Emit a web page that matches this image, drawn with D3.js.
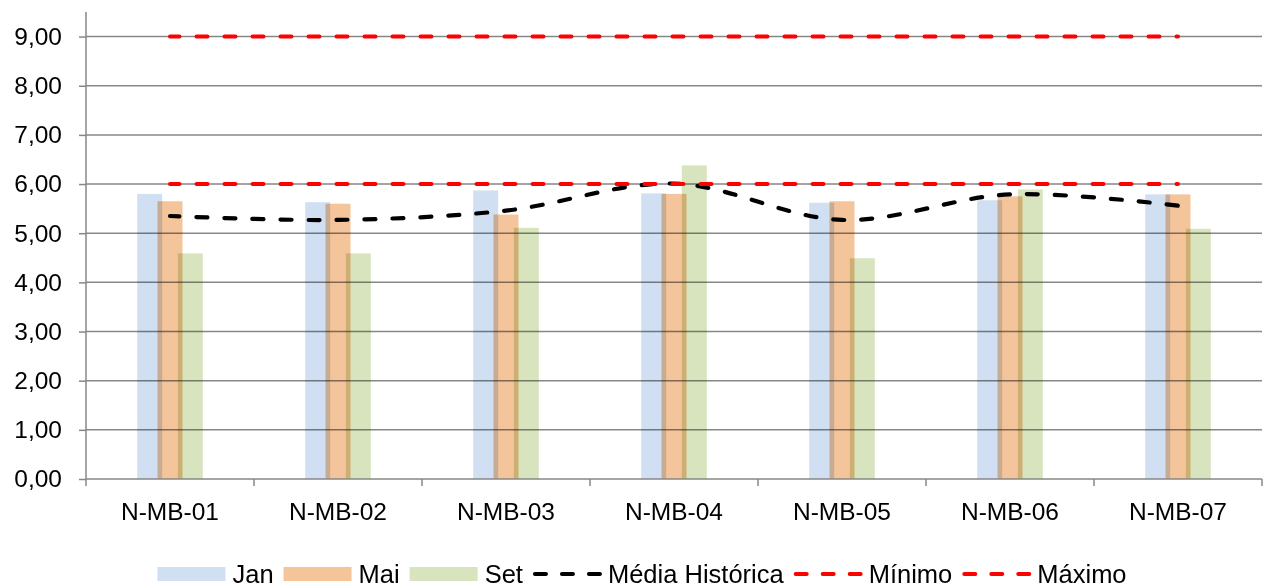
<!DOCTYPE html>
<html>
<head>
<meta charset="utf-8">
<script src="https://cdn.jsdelivr.net/npm/d3@7"></script>
<style>
  html, body { margin: 0; padding: 0; background: #fff; }
  svg { display: block; font-family: "Liberation Sans", Arial, sans-serif; }
</style>
</head>
<body>
<svg id="chart" width="1266" height="588"></svg>
<script>
// Monitoring points and monthly readings
const categories = ["N-MB-01", "N-MB-02", "N-MB-03", "N-MB-04", "N-MB-05", "N-MB-06", "N-MB-07"];
const jan = [5.80, 5.63, 5.87, 5.81, 5.62, 5.67, 5.79];
const mai = [5.65, 5.60, 5.38, 5.80, 5.65, 5.75, 5.79];
const set = [4.59, 4.59, 5.11, 6.38, 4.49, 5.89, 5.09];
const mediaHistorica = [5.35, 5.27, 5.46, 6.01, 5.27, 5.79, 5.56];
const minimo = [6, 6, 6, 6, 6, 6, 6];
const maximo = [9, 9, 9, 9, 9, 9, 9];
const yTicks = [0, 1, 2, 3, 4, 5, 6, 7, 8, 9];

const barSeries = [
  { name: "Jan", values: jan, color: "#d0dff2" },
  { name: "Mai", values: mai, color: "#f4c49a" },
  { name: "Set", values: set, color: "#d8e4be" }
];
const lineSeries = [
  { name: "Média Histórica", values: mediaHistorica, color: "#000000", smooth: true },
  { name: "Mínimo", values: minimo, color: "#ff0000", smooth: false },
  { name: "Máximo", values: maximo, color: "#ff0000", smooth: false }
];

const svg = d3.select("#chart");
const plot = { left: 86, right: 1262, top: 12, bottom: 479 };
const axisFont = 24.5;
const legendFont = 25.5;

const x = d3.scaleBand().domain(categories).range([plot.left, plot.right]).paddingInner(0).paddingOuter(0);
const y = d3.scaleLinear().domain([0, 9.5]).range([plot.bottom, plot.top]);

const axisColor = "#878787";

// Horizontal gridlines
svg.append("g")
  .selectAll("line")
  .data(yTicks.slice(1))
  .join("line")
  .attr("x1", plot.left).attr("x2", plot.right)
  .attr("y1", d => y(d)).attr("y2", d => y(d))
  .attr("stroke", axisColor).attr("stroke-width", 1.5);

// Clustered bars, slightly overlapping
const barW = 25;
const step = 20.3;
const bars = svg.append("g");
barSeries.forEach((s, i) => {
  bars.append("g")
    .selectAll("rect")
    .data(s.values)
    .join("rect")
    .attr("x", (d, j) => x(categories[j]) + x.bandwidth() / 2 + (i - 1) * step - barW / 2)
    .attr("width", barW)
    .attr("y", d => y(d))
    .attr("height", d => y(0) - y(d))
    .attr("fill", s.color)
    .style("mix-blend-mode", "multiply");
});

// Y axis
const yAxis = d3.axisLeft(y).tickValues(yTicks).tickSize(7).tickPadding(17)
  .tickFormat(d => d3.format(".2f")(d).replace(".", ","));
const gy = svg.append("g").attr("transform", `translate(${plot.left},0)`).call(yAxis);
gy.select(".domain").attr("stroke", axisColor).attr("stroke-width", 1.5)
  .attr("d", `M0,${plot.top}V${plot.bottom}`);
gy.selectAll(".tick line").attr("stroke", axisColor).attr("stroke-width", 1.5);
gy.selectAll(".tick text").attr("fill", "#000").style("font-size", axisFont + "px")
  .style("font-family", "'Liberation Sans', Arial, sans-serif");

// X axis with ticks at category boundaries
const gx = svg.append("g").attr("transform", `translate(0,${plot.bottom})`);
gx.append("line").attr("x1", plot.left).attr("x2", plot.right)
  .attr("stroke", axisColor).attr("stroke-width", 1.5);
const bounds = categories.map(c => x(c)).concat([plot.right]);
gx.selectAll("line.tk").data(bounds).join("line").attr("class", "tk")
  .attr("x1", d => d).attr("x2", d => d).attr("y1", 0).attr("y2", 7)
  .attr("stroke", axisColor).attr("stroke-width", 1.5);
gx.selectAll("text").data(categories).join("text")
  .attr("x", d => x(d) + x.bandwidth() / 2)
  .attr("y", 41)
  .attr("text-anchor", "middle")
  .style("font-size", axisFont + "px")
  .text(d => d);

// Reference and average lines
lineSeries.forEach(s => {
  const line = d3.line()
    .x((d, j) => x(categories[j]) + x.bandwidth() / 2)
    .y(d => y(d))
    .curve(s.smooth ? d3.curveCatmullRom.alpha(0.5) : d3.curveLinear);
  svg.append("path")
    .datum(s.values)
    .attr("d", line)
    .attr("fill", "none")
    .attr("stroke", s.color)
    .attr("stroke-width", s.smooth ? 4.2 : 4)
    .attr("stroke-dasharray", "11,17")
    .attr("stroke-dashoffset", 1.5)
    .attr("stroke-linecap", "round");
});

// Legend, centred under the chart
const legend = svg.append("g").attr("transform", "translate(0,574)");
const items = barSeries.map(s => ({ type: "bar", ...s })).concat(lineSeries.map(s => ({ type: "line", ...s })));
const keyW = 68, keyGap = 7, itemGap = 10;
let lx = 0;
items.forEach(it => {
  const g = legend.append("g");
  if (it.type === "bar") {
    g.append("rect").attr("x", lx).attr("y", -7).attr("width", keyW).attr("height", 14).attr("fill", it.color);
  } else {
    g.append("line").attr("x1", lx + 2).attr("x2", lx + keyW).attr("y1", 0).attr("y2", 0)
      .attr("stroke", it.color).attr("stroke-width", 4)
      .attr("stroke-dasharray", "11,16").attr("stroke-linecap", "round");
  }
  lx += keyW + keyGap;
  const t = g.append("text").attr("x", lx).attr("y", 0).attr("dy", "0.35em")
    .style("font-size", legendFont + "px").text(it.name);
  lx += t.node().getComputedTextLength() + itemGap;
});
const totalW = lx - itemGap;
legend.attr("transform", `translate(${642 - totalW / 2},574)`);
</script>
</body>
</html>
